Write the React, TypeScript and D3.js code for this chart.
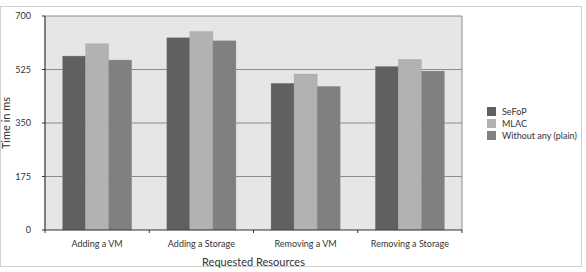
import React from "react";
import * as d3 from "d3";

const categories = ["Adding a VM", "Adding a Storage", "Removing a VM", "Removing a Storage"];
const seriesNames = ["SeFoP", "MLAC", "Without any (plain)"];
const sefop = [569, 629, 480, 535];
const mlac = [609, 649, 510, 558];
const plain = [556, 619, 470, 520];
const yTicks = [0, 175, 350, 525, 700];
const colors = ["#606060", "#b2b2b2", "#808080"];

const W = 586, H = 272;
const m = { left: 45, right: 462, top: 16, bottom: 230 };

export default function App() {
  const series = [sefop, mlac, plain];
  const x = d3.scaleBand<string>().domain(categories).range([m.left, m.right]).paddingInner(0).paddingOuter(0);
  const y = d3.scaleLinear().domain([0, 700]).range([m.bottom, m.top]);
  const inner = d3.scaleBand<number>().domain([0, 1, 2]).range([0, x.bandwidth()]).paddingInner(0).paddingOuter(0.76);
  const font = "Lato, 'Open Sans', sans-serif";
  const txt = "#333";
  return (
    <svg width={W} height={H} style={{ position: "absolute", left: 0, top: 0, fontFamily: font }}>
      <rect x={0} y={0} width={W} height={H} fill="#fff" />
      <rect x={0.5} y={6.5} width={581} height={260} fill="#fff" stroke="#d0d0d0" />
      <rect x={m.left} y={m.top} width={m.right - m.left} height={m.bottom - m.top} fill="#e6e6e6" />
      {yTicks.map((t) => (
        <g key={t}>
          {t > 0 && <line x1={m.left} x2={m.right} y1={y(t)} y2={y(t)} stroke="#8c8c8c" strokeWidth={1} />}
          <line x1={m.left - 3} x2={m.left} y1={y(t)} y2={y(t)} stroke="#333" />
          <text x={31} y={y(t)} dy="0.35em" textAnchor="end" fontSize={9} fill={txt}>{t}</text>
        </g>
      ))}
      <line x1={m.right} x2={m.right} y1={m.top} y2={m.bottom} stroke="#8c8c8c" />
      {categories.map((c, i) => (
        <g key={c}>
          {series.map((s, j) => (
            <rect key={j} x={(x(c) as number) + (inner(j) as number)} y={y(s[i])} width={inner.bandwidth()}
              height={m.bottom - y(s[i])} fill={colors[j]} stroke="#9a9a9a" strokeWidth={0.6} strokeOpacity={0.5} />
          ))}
          <text x={(x(c) as number) + x.bandwidth() / 2} y={247} textAnchor="middle" fontSize={9} fill={txt}>{c}</text>
        </g>
      ))}
      <line x1={m.left} x2={m.left} y1={m.top} y2={m.bottom} stroke="#333" strokeWidth={1.2} />
      <line x1={m.left} x2={m.right} y1={m.bottom} y2={m.bottom} stroke="#333" strokeWidth={1.2} />
      {[...categories.map((c) => x(c) as number), m.right].map((v, i) => (
        <line key={i} x1={v} x2={v} y1={m.bottom} y2={m.bottom + 3} stroke="#333" />
      ))}
      <text transform={`translate(10,123) rotate(-90)`} textAnchor="middle" fontSize={11} fill={txt}>Time in ms</text>
      <text x={(m.left + m.right) / 2} y={266} textAnchor="middle" fontSize={11} fill={txt}>Requested Resources</text>
      {seriesNames.map((n, j) => (
        <g key={n} transform={`translate(487,${107 + j * 12})`}>
          <rect x={0} y={0} width={9} height={9} fill={colors[j]} />
          <text x={15} y={4.5} dy="0.35em" fontSize={9} fill={txt}>{n}</text>
        </g>
      ))}
    </svg>
  );
}
